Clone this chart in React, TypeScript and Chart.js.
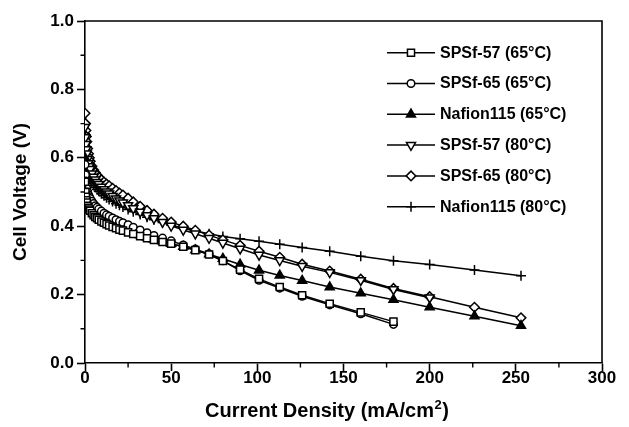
import { useEffect, useRef } from 'react';
import { Chart, registerables } from 'chart.js';
import { drawPoint } from 'chart.js/helpers';

Chart.register(...registerables);

const FONT = '"Liberation Sans", Arial, Helvetica, sans-serif';

// Current density grid (mA/cm2) shared by all polarization curves
const currentDensity = [
  0, 0.25, 0.5, 0.75, 1, 1.5, 2, 2.5, 3, 4, 5, 6, 7, 8, 9.5, 11, 12.5, 14, 16, 18, 20, 22, 25, 28, 32, 36,
  40, 45, 50, 57, 64, 72, 80, 90, 101, 113, 126, 142, 160, 179, 200, 226, 253,
];

// Cell voltage (V)
const spsf57_65 = [
  0.53, 0.5, 0.486, 0.476, 0.469, 0.46, 0.454, 0.449, 0.445, 0.438, 0.432, 0.427, 0.423, 0.419, 0.414, 0.41,
  0.406, 0.402, 0.398, 0.394, 0.39, 0.387, 0.382, 0.377, 0.371, 0.365, 0.36, 0.354, 0.349, 0.34, 0.33, 0.317,
  0.298, 0.273, 0.246, 0.222, 0.198, 0.173, 0.148, 0.121,
];
const spsf65_65 = [
  0.58, 0.55, 0.532, 0.52, 0.51, 0.5, 0.492, 0.486, 0.481, 0.473, 0.466, 0.46, 0.455, 0.45, 0.444, 0.438,
  0.433, 0.429, 0.424, 0.419, 0.414, 0.41, 0.404, 0.397, 0.389, 0.381, 0.373, 0.365, 0.357, 0.345, 0.333, 0.319,
  0.299, 0.27, 0.242, 0.219, 0.195, 0.17, 0.144, 0.113,
];
const nafion_65 = [
  0.6, 0.56, 0.532, 0.513, 0.5, 0.486, 0.476, 0.468, 0.462, 0.453, 0.446, 0.44, 0.435, 0.43, 0.424, 0.419,
  0.414, 0.41, 0.405, 0.4, 0.396, 0.392, 0.386, 0.381, 0.374, 0.367, 0.362, 0.356, 0.349, 0.34, 0.33, 0.318,
  0.305, 0.288, 0.271, 0.256, 0.241, 0.222, 0.204, 0.185, 0.163, 0.137, 0.109,
];
const spsf57_80 = [
  0.69, 0.66, 0.64, 0.625, 0.612, 0.596, 0.584, 0.575, 0.567, 0.554, 0.544, 0.536, 0.529, 0.523, 0.515, 0.508,
  0.501, 0.495, 0.488, 0.481, 0.475, 0.469, 0.461, 0.452, 0.442, 0.432, 0.423, 0.412, 0.401, 0.389, 0.378, 0.365,
  0.351, 0.334, 0.316, 0.3, 0.283, 0.265, 0.242, 0.215, 0.191,
];
const spsf65_80 = [
  0.73, 0.7, 0.68, 0.662, 0.647, 0.627, 0.612, 0.6, 0.59, 0.575, 0.564, 0.556, 0.549, 0.543, 0.536, 0.529,
  0.523, 0.518, 0.511, 0.504, 0.497, 0.491, 0.482, 0.471, 0.458, 0.446, 0.435, 0.423, 0.412, 0.4, 0.388, 0.374,
  0.36, 0.344, 0.327, 0.309, 0.289, 0.269, 0.245, 0.218, 0.194, 0.163, 0.132,
];
const nafion_80 = [
  0.67, 0.63, 0.605, 0.59, 0.578, 0.563, 0.552, 0.544, 0.538, 0.528, 0.52, 0.513, 0.507, 0.502, 0.495, 0.489,
  0.483, 0.478, 0.472, 0.466, 0.461, 0.456, 0.449, 0.442, 0.434, 0.426, 0.419, 0.411, 0.403, 0.394, 0.386, 0.378,
  0.37, 0.363, 0.356, 0.347, 0.338, 0.327, 0.312, 0.299, 0.288, 0.272, 0.255,
];

const seriesLabels = [
  'SPSf-57 (65°C)',
  'SPSf-65 (65°C)',
  'Nafion115 (65°C)',
  'SPSf-57 (80°C)',
  'SPSf-65 (80°C)',
  'Nafion115 (80°C)',
];
const seriesValues = [spsf57_65, spsf65_65, nafion_65, spsf57_80, spsf65_80, nafion_80];

const xTitleMain = 'Current Density (mA/cm';
const xTitleSup = '2';
const xTitleEnd = ')';
const yTitle = 'Cell Voltage (V)';

const markerStyles = [
  { pointStyle: 'rect', pointRadius: 5, pointRotation: 0, fill: '#fff' },
  { pointStyle: 'circle', pointRadius: 3.8, pointRotation: 0, fill: '#fff' },
  { pointStyle: 'triangle', pointRadius: 5.2, pointRotation: 0, fill: '#000' },
  { pointStyle: 'triangle', pointRadius: 5.2, pointRotation: 180, fill: '#fff' },
  { pointStyle: 'rectRot', pointRadius: 4.8, pointRotation: 0, fill: '#fff' },
  { pointStyle: 'cross', pointRadius: 5, pointRotation: 0, fill: '#000' },
];

const framePlugin = {
  id: 'frameAndMinor',
  afterDraw(chart: any) {
    const { ctx, chartArea, scales } = chart;
    ctx.save();
    ctx.strokeStyle = '#000';
    ctx.lineWidth = 1.6;
    ctx.beginPath();
    ctx.moveTo(chartArea.left, chartArea.top);
    ctx.lineTo(chartArea.right, chartArea.top);
    ctx.lineTo(chartArea.right, chartArea.bottom);
    ctx.stroke();
    // minor ticks
    ctx.lineWidth = 1.4;
    ctx.beginPath();
    for (let v = 25; v < 300; v += 50) {
      const px = scales.x.getPixelForValue(v);
      ctx.moveTo(px, chartArea.bottom);
      ctx.lineTo(px, chartArea.bottom + 4.5);
    }
    for (let v = 0.1; v < 1; v += 0.2) {
      const py = scales.y.getPixelForValue(v);
      ctx.moveTo(chartArea.left - 4.5, py);
      ctx.lineTo(chartArea.left, py);
    }
    ctx.stroke();
    // x axis title with superscript
    ctx.fillStyle = '#000';
    ctx.textBaseline = 'middle';
    ctx.textAlign = 'left';
    const mainFont = `bold 20px ${FONT}`;
    const supFont = `bold 13px ${FONT}`;
    ctx.font = mainFont;
    const w1 = ctx.measureText(xTitleMain).width;
    const w3 = ctx.measureText(xTitleEnd).width;
    ctx.font = supFont;
    const w2 = ctx.measureText(xTitleSup).width;
    const cx = 327;
    const cy = 411;
    let x = cx - (w1 + w2 + w3 + 1) / 2;
    ctx.font = mainFont;
    ctx.fillText(xTitleMain, x, cy);
    x += w1 + 0.5;
    ctx.font = supFont;
    ctx.fillText(xTitleSup, x, cy - 6);
    x += w2 + 0.5;
    ctx.font = mainFont;
    ctx.fillText(xTitleEnd, x, cy);
    ctx.restore();
  },
};

const legendPlugin = {
  id: 'lineLegend',
  afterDraw(chart: any) {
    const { ctx, chartArea } = chart;
    const x0 = chartArea.left + 302;
    chart.data.datasets.forEach((ds: any, i: number) => {
      const y = chartArea.top + 31.7 + i * 30.8;
      ctx.save();
      ctx.strokeStyle = '#000';
      ctx.lineWidth = 1.5;
      ctx.beginPath();
      ctx.moveTo(x0, y);
      ctx.lineTo(x0 + 48, y);
      ctx.stroke();
      ctx.fillStyle = ds.pointBackgroundColor;
      ctx.strokeStyle = '#000';
      ctx.lineWidth = ds.pointBorderWidth;
      drawPoint(
        ctx,
        { pointStyle: ds.pointStyle, radius: ds.pointRadius, rotation: ds.pointRotation, borderWidth: ds.pointBorderWidth },
        x0 + 24,
        y
      );
      ctx.fillStyle = '#000';
      ctx.font = `bold 16px ${FONT}`;
      ctx.textBaseline = 'middle';
      ctx.textAlign = 'left';
      ctx.fillText(ds.label, x0 + 53, y + 0.5);
      ctx.restore();
    });
  },
};

export default function App() {
  const canvasRef = useRef<HTMLCanvasElement | null>(null);

  useEffect(() => {
    if (!canvasRef.current) return;
    const datasets = seriesLabels.map((label, i) => {
      const vals = seriesValues[i];
      const m = markerStyles[i];
      return {
        label,
        data: vals.map((v, j) => ({ x: currentDensity[j], y: v })),
        borderColor: '#000',
        borderWidth: 1.5,
        pointStyle: m.pointStyle,
        pointRadius: m.pointRadius,
        pointRotation: m.pointRotation,
        pointBackgroundColor: m.fill,
        pointBorderColor: '#000',
        pointBorderWidth: 1.5,
        fill: false,
        tension: 0,
      };
    });

    const chart = new Chart(canvasRef.current, {
      type: 'line',
      data: { datasets } as any,
      plugins: [framePlugin, legendPlugin],
      options: {
        animation: false,
        responsive: false,
        events: [],
        layout: { padding: { top: 21, right: 27, left: 0, bottom: 0 } },
        plugins: { legend: { display: false }, tooltip: { enabled: false }, title: { display: false } },
        scales: {
          x: {
            type: 'linear',
            min: 0,
            max: 300,
            afterFit: (scale: any) => {
              scale.height = 64;
            },
            border: { display: true, color: '#000', width: 1.6 },
            grid: { display: true, drawOnChartArea: false, drawTicks: true, tickLength: 8, tickColor: '#000', tickWidth: 1.6 },
            ticks: {
              stepSize: 50,
              color: '#000',
              padding: -3,
              font: { family: FONT, size: 17, weight: 'bold' },
              maxRotation: 0,
              autoSkip: false,
            },
          },
          y: {
            type: 'linear',
            min: 0,
            max: 1,
            afterFit: (scale: any) => {
              scale.width = 85;
            },
            border: { display: true, color: '#000', width: 1.6 },
            grid: { display: true, drawOnChartArea: false, drawTicks: true, tickLength: 8, tickColor: '#000', tickWidth: 1.6 },
            ticks: {
              stepSize: 0.2,
              color: '#000',
              padding: 3,
              font: { family: FONT, size: 17, weight: 'bold' },
              callback: (v: any) => Number(v).toFixed(1),
            },
            title: {
              display: true,
              text: yTitle,
              color: '#000',
              font: { family: FONT, size: 19, weight: 'bold' },
              padding: { top: 9, bottom: 0 },
            },
          },
        },
      } as any,
    });
    return () => chart.destroy();
  }, []);

  return (
    <div style={{ position: 'absolute', left: 0, top: 0, width: 629, height: 427, background: '#fff' }}>
      <canvas ref={canvasRef} width={629} height={427} style={{ display: 'block' }} />
    </div>
  );
}
